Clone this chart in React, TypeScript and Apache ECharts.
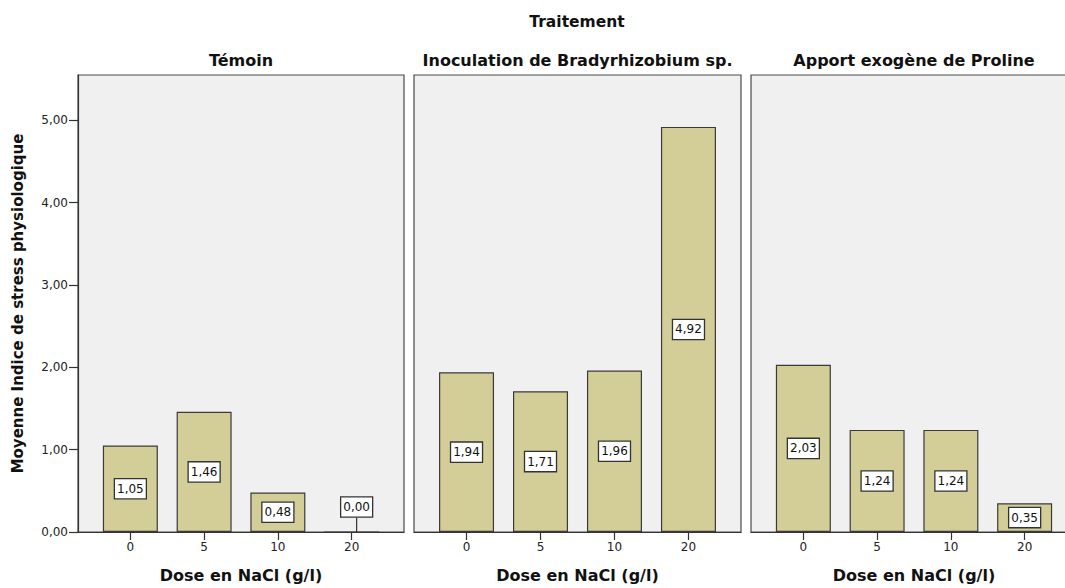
import React, { useEffect, useRef } from "react";
import * as echarts from "echarts";

const doses = ["0", "5", "10", "20"];
const panels = ["Témoin", "Inoculation de Bradyrhizobium sp.", "Apport exogène de Proline"];
const temoin = [1.05, 1.46, 0.48, 0.0];
const inoculation = [1.94, 1.71, 1.96, 4.92];
const proline = [2.03, 1.24, 1.24, 0.35];
const yTicks = [0, 1, 2, 3, 4, 5];

const fmt = (v: number) => v.toFixed(2).replace(".", ",");

export default function App() {
  const ref = useRef<HTMLDivElement>(null);
  useEffect(() => {
    if (!ref.current) return;
    const chart = echarts.init(ref.current, undefined, { renderer: "svg" });
    const seriesData = [temoin, inoculation, proline];
    const lefts = [78, 414, 751];
    const widths = [326, 327, 326];
    const FONT = "'DejaVu Sans', Arial, sans-serif";
    const grids = lefts.map((l, i) => ({
      left: l,
      top: 75,
      width: widths[i],
      height: 458,
      show: true,
      backgroundColor: "#f0f0f0",
      borderColor: "#4a4a4a",
      borderWidth: 1.2,
      containLabel: false,
    }));
    const xAxes = lefts.map((_, i) => ({
      type: "value",
      gridIndex: i,
      min: -0.71,
      max: 3.71,
      splitLine: { show: false },
      axisLine: { show: true, onZero: false, lineStyle: { color: "#333", width: 1.2 } },
      axisTick: { show: true, length: 8, customValues: [0, 1, 2, 3], lineStyle: { color: "#333", width: 1.2 } },
      axisLabel: {
        customValues: [0, 1, 2, 3],
        formatter: (v: number) => doses[Math.round(v)] ?? "",
        fontSize: 12,
        color: "#222",
        margin: 9,
        fontFamily: FONT,
      },
      name: "Dose en NaCl (g/l)",
      nameLocation: "middle",
      nameGap: 35,
      nameTextStyle: { fontWeight: "bold", fontSize: 16, color: "#111", fontFamily: FONT },
    }));
    const yAxes = lefts.map((_, i) => ({
      type: "value",
      gridIndex: i,
      min: 0,
      max: 5.55,
      splitLine: { show: false },
      axisLine: { show: i === 0, onZero: false, lineStyle: { color: "#333", width: 1.2 } },
      axisTick: { show: i === 0, length: 9, customValues: yTicks, lineStyle: { color: "#333", width: 1.2 } },
      axisLabel: {
        show: i === 0,
        customValues: yTicks,
        formatter: (v: number) => fmt(v),
        fontSize: 12,
        color: "#222",
        margin: 10,
        fontFamily: FONT,
      },
      name: i === 0 ? "Moyenne Indice de stress physiologique" : "",
      nameLocation: "middle",
      nameGap: 53,
      nameTextStyle: { fontWeight: "bold", fontSize: 15, color: "#111", fontFamily: FONT },
    }));
    const series = seriesData.map((vals, i) => ({
      type: "bar",
      xAxisIndex: i,
      yAxisIndex: i,
      barWidth: 55,
      data: vals.map((v, j) => [j, v]),
      itemStyle: { color: "#d3ce98", borderColor: "#3a3a3a", borderWidth: 1.2 },
      label: {
        show: true,
        position: "inside",
        formatter: (p: any) => fmt(p.value[1]),
        fontSize: 12,
        color: "#111",
        fontFamily: FONT,
        backgroundColor: "#fff",
        borderColor: "#333",
        borderWidth: 1.3,
        padding: [4, 2, 3, 2],
      },
      labelLine: { show: true, lineStyle: { color: "#333", width: 1.2 } },
      labelLayout: (p: any) =>
        p.seriesIndex === 0 && p.dataIndex === 3 ? { dy: -25, dx: 5 } : {},
    }));
    const graphic = [
      { type: "text", x: 577, y: 22, style: { text: "Traitement", textAlign: "center", textVerticalAlign: "middle", font: `bold 15.5px ${FONT}`, fill: "#111" } },
      ...panels.map((t, i) => ({
        type: "text",
        x: lefts[i] + widths[i] / 2,
        y: 60,
        style: { text: t, textAlign: "center", textVerticalAlign: "middle", font: `bold 16px ${FONT}`, fill: "#111" },
      })),
    ];
    chart.setOption({
      animation: false,
      backgroundColor: "#fff",
      grid: grids,
      xAxis: xAxes,
      yAxis: yAxes,
      series,
      graphic,
    });
    return () => chart.dispose();
  }, []);
  return (
    <div style={{ position: "absolute", left: 0, top: 0, width: 1065, height: 588, overflow: "hidden" }}>
      <div ref={ref} style={{ width: 1085, height: 588 }} />
    </div>
  );
}
